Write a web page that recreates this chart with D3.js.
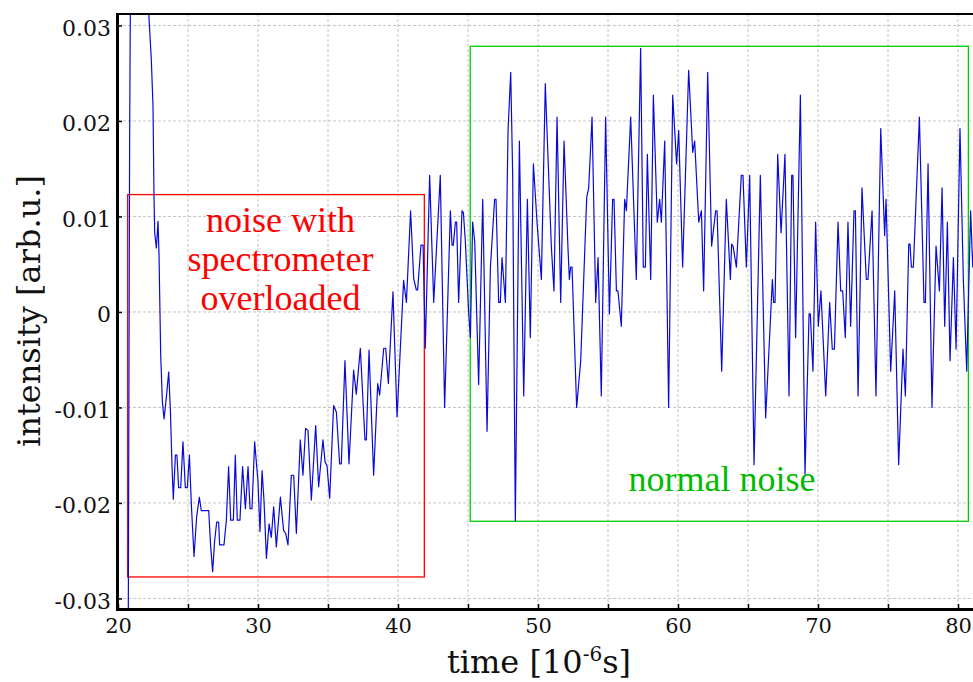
<!DOCTYPE html>
<html>
<head>
<meta charset="utf-8">
<script src="https://cdn.jsdelivr.net/npm/d3@7"></script>
<style>
  html, body { margin: 0; padding: 0; background: #fff; }
</style>
</head>
<body>
<div id="chart"></div>
<script>
var width = 973;
var height = 682;

// time axis in 10^-6 s, intensity in arb.u.
var timeValues = [
  20.72, 20.83, 21.00, 22.38, 22.50, 22.57, 22.62, 22.74, 22.86, 22.93,
  23.05, 23.17, 23.29, 23.45, 23.62, 23.74, 23.86, 23.95, 24.10, 24.21,
  24.33, 24.48, 24.64, 24.81, 24.95, 25.10, 25.24, 25.43, 25.62, 25.81,
  25.95, 26.48, 26.62, 26.76, 26.90, 27.05, 27.19, 27.26, 27.57, 27.74,
  27.90, 28.05, 28.24, 28.38, 28.52, 28.71, 28.90, 29.10, 29.29, 29.43,
  29.57, 29.76, 30.00, 30.14, 30.29, 30.43, 30.60, 30.79, 30.95, 31.12,
  31.31, 31.60, 31.83, 31.98, 32.14, 32.38, 32.55, 32.74, 33.02, 33.21,
  33.40, 33.57, 33.81, 34.12, 34.33, 34.64, 34.79, 34.93, 35.12, 35.40,
  35.60, 35.83, 35.95, 36.21, 36.50, 36.83, 37.02, 37.31, 37.64, 37.74,
  37.93, 38.26, 38.55, 38.69, 38.98, 39.12, 39.31, 39.64, 39.93, 40.40,
  40.60, 40.90, 41.12, 41.31, 41.40, 41.64, 41.79, 41.95, 42.26, 42.55,
  43.02, 43.33, 43.74, 43.86, 43.95, 44.10, 44.19, 44.33, 44.57, 44.67,
  44.81, 45.05, 45.17, 45.33, 45.48, 45.76, 46.05, 46.36, 46.60, 46.90,
  47.00, 47.19, 47.31, 47.43, 47.67, 47.86, 48.05, 48.19, 48.38, 48.67,
  48.98, 49.24, 49.45, 49.67, 49.93, 50.24, 50.52, 50.95, 51.14, 51.36,
  51.62, 51.86, 52.14, 52.24, 52.33, 52.43, 52.76, 53.05, 53.48, 53.62,
  53.86, 54.12, 54.29, 54.52, 54.83, 55.10, 55.33, 55.43, 55.60, 55.71,
  55.95, 56.19, 56.31, 56.62, 57.02, 57.33, 57.52, 57.67, 57.81, 58.05,
  58.24, 58.52, 58.69, 58.81, 59.05, 59.33, 59.62, 59.90, 60.05, 60.33,
  60.76, 61.05, 61.19, 61.48, 61.67, 61.83, 62.12, 62.40, 62.69, 62.79,
  63.12, 63.45, 63.74, 63.83, 63.93, 64.17, 64.52, 64.64, 64.88, 65.12,
  65.43, 65.88, 66.26, 66.74, 66.83, 66.93, 67.12, 67.36, 67.64, 67.93,
  68.12, 68.21, 68.40, 68.74, 69.07, 69.36, 69.45, 69.64, 69.83, 70.02,
  70.21, 70.55, 70.83, 71.02, 71.17, 71.43, 71.62, 71.76, 71.95, 72.14,
  72.33, 72.57, 72.67, 72.86, 73.14, 73.45, 73.57, 73.86, 74.14, 74.48,
  74.76, 74.86, 75.19, 75.48, 75.76, 76.07, 76.24, 76.48, 76.57, 76.67,
  76.81, 77.24, 77.57, 77.67, 77.86, 78.14, 78.43, 78.67, 78.86, 79.05,
  79.24, 79.43, 79.67, 79.86, 80.14, 80.38, 80.62, 80.90, 81.05, 81.20
];

var intensityValues = [
  -0.0400, 0.0180, 0.0630, 0.0264, 0.0216, 0.0123, 0.0083, 0.0067, 0.0095, 0.0059,
  -0.0045, -0.0094, -0.0112, -0.0090, -0.0063, -0.0102, -0.0162, -0.0196, -0.0150, -0.0150,
  -0.0184, -0.0184, -0.0136, -0.0184, -0.0184, -0.0150, -0.0202, -0.0256, -0.0214, -0.0194,
  -0.0208, -0.0208, -0.0246, -0.0272, -0.0240, -0.0220, -0.0220, -0.0244, -0.0244, -0.0218,
  -0.0162, -0.0218, -0.0218, -0.0150, -0.0218, -0.0218, -0.0162, -0.0206, -0.0162, -0.0206,
  -0.0206, -0.0136, -0.0178, -0.0230, -0.0166, -0.0198, -0.0258, -0.0222, -0.0236, -0.0204,
  -0.0246, -0.0194, -0.0229, -0.0232, -0.0244, -0.0171, -0.0171, -0.0232, -0.0134, -0.0171,
  -0.0122, -0.0124, -0.0197, -0.0119, -0.0183, -0.0134, -0.0157, -0.0161, -0.0195, -0.0098,
  -0.0105, -0.0159, -0.0159, -0.0051, -0.0159, -0.0061, -0.0086, -0.0038, -0.0134, -0.0134,
  -0.0040, -0.0171, -0.0075, -0.0087, -0.0038, -0.0038, -0.0075, 0.0021, -0.0110, 0.0033,
  0.0010, 0.0106, 0.0035, 0.0023, 0.0023, 0.0070, 0.0070, -0.0038, 0.0143, 0.0010,
  0.0143, -0.0100, 0.0106, 0.0070, 0.0070, 0.0094, 0.0094, 0.0010, 0.0106, 0.0104,
  0.0074, -0.0002, -0.0027, 0.0094, 0.0074, -0.0076, 0.0118, -0.0125, 0.0047, 0.0118,
  0.0118, 0.0010, 0.0010, 0.0057, 0.0010, 0.0190, 0.0251, 0.0144, -0.0219, 0.0179,
  -0.0088, 0.0118, -0.0027, 0.0155, 0.0094, 0.0034, 0.0239, 0.0069, 0.0022, 0.0204,
  0.0010, 0.0179, 0.0067, 0.0034, 0.0047, 0.0047, -0.0100, -0.0051, 0.0120, 0.0130,
  0.0204, 0.0010, 0.0057, -0.0088, 0.0204, -0.0002, 0.0118, 0.0118, 0.0022, 0.0022,
  -0.0015, 0.0118, 0.0106, 0.0204, 0.0034, 0.0276, 0.0047, 0.0047, 0.0165, 0.0034,
  0.0227, 0.0094, 0.0118, 0.0094, 0.0179, -0.0100, 0.0227, 0.0155, 0.0190, 0.0047,
  0.0253, 0.0167, 0.0179, 0.0094, 0.0106, 0.0022, 0.0251, 0.0069, 0.0106, 0.0106,
  -0.0062, 0.0118, 0.0034, 0.0071, 0.0069, 0.0047, 0.0143, 0.0143, 0.0047, 0.0143,
  -0.0160, 0.0143, -0.0111, 0.0034, 0.0010, 0.0010, 0.0165, 0.0083, 0.0165, -0.0088,
  0.0143, 0.0143, -0.0027, 0.0227, -0.0170, -0.0002, -0.0002, -0.0062, 0.0094, -0.0015,
  0.0022, -0.0088, 0.0010, -0.0039, -0.0039, 0.0094, 0.0022, 0.0022, -0.0027, 0.0094,
  -0.0015, 0.0106, 0.0106, -0.0088, 0.0130, 0.0034, 0.0034, 0.0106, -0.0088, 0.0192,
  0.0080, 0.0118, -0.0062, 0.0022, -0.0160, -0.0039, -0.0088, 0.0071, 0.0071, 0.0047,
  0.0047, 0.0204, 0.0010, 0.0010, 0.0155, -0.0100, 0.0069, 0.0022, 0.0130, -0.0015,
  0.0094, -0.0051, 0.0057, -0.0039, 0.0192, 0.0034, -0.0062, 0.0106, 0.0047, 0.0090
];

var xTicks = [20, 25, 30, 35, 40, 45, 50, 55, 60, 65, 70, 75, 80];
var xTickLabels = [20, 30, 40, 50, 60, 70, 80];
var yTicks = [-0.03, -0.02, -0.01, 0, 0.01, 0.02, 0.03];

// annotation boxes: [t0, t1, v0, v1]
var overloadBox = [20.69, 41.88, -0.02775, 0.01229];
var normalBox = [45.16, 80.74, -0.02192, 0.02782];
var overloadText = ["noise with", "spectrometer", "overloaded"];
var normalText = "normal noise";

var dataset = timeValues.map(function (t, i) {
  return { t: t, v: intensityValues[i] };
});

var plotLeft = 118;
var plotTop = 14;
var plotBottom = 608;

var svg = d3
  .select("#chart")
  .append("svg")
  .attr("width", width)
  .attr("height", height)
  .style("display", "block");

var xScale = d3.scaleLinear().domain([20, 81.07]).range([plotLeft, width]);
var yScale = d3.scaleLinear().domain([-0.0310, 0.0312]).range([plotBottom, plotTop]);

svg
  .append("defs")
  .append("clipPath")
  .attr("id", "plotClip")
  .append("rect")
  .attr("x", plotLeft)
  .attr("y", plotTop)
  .attr("width", width - plotLeft)
  .attr("height", plotBottom - plotTop);

// grid
svg
  .append("g")
  .selectAll("line")
  .data(xTicks)
  .enter()
  .append("line")
  .attr("x1", function (d) { return xScale(d); })
  .attr("x2", function (d) { return xScale(d); })
  .attr("y1", plotTop)
  .attr("y2", plotBottom)
  .attr("stroke", "#c4c4c4")
  .attr("stroke-width", 1)
  .attr("stroke-dasharray", "3,2");

svg
  .append("g")
  .selectAll("line")
  .data(yTicks)
  .enter()
  .append("line")
  .attr("x1", plotLeft)
  .attr("x2", width)
  .attr("y1", function (d) { return yScale(d); })
  .attr("y2", function (d) { return yScale(d); })
  .attr("stroke", "#c4c4c4")
  .attr("stroke-width", 1)
  .attr("stroke-dasharray", "3,2");

// annotation boxes
function drawBox(box, color) {
  svg
    .append("rect")
    .attr("x", xScale(box[0]))
    .attr("y", yScale(box[3]))
    .attr("width", xScale(box[1]) - xScale(box[0]))
    .attr("height", yScale(box[2]) - yScale(box[3]))
    .attr("fill", "none")
    .attr("stroke", color)
    .attr("stroke-width", 1.3);
}
drawBox(overloadBox, "#ff0000");
drawBox(normalBox, "#00cc00");

// signal
var line = d3
  .line()
  .x(function (d) { return xScale(d.t); })
  .y(function (d) { return yScale(d.v); });

svg
  .append("path")
  .datum(dataset)
  .attr("clip-path", "url(#plotClip)")
  .attr("d", line)
  .attr("fill", "none")
  .attr("stroke", "#0a0ad8")
  .attr("stroke-width", 1.2)
  .attr("stroke-linejoin", "round");

// annotation texts
svg
  .append("g")
  .selectAll("text")
  .data(overloadText)
  .enter()
  .append("text")
  .attr("x", 280.5)
  .attr("y", function (d, i) { return 232 + i * 39; })
  .attr("text-anchor", "middle")
  .attr("font-family", "Liberation Serif, Times New Roman, serif")
  .attr("font-size", "36px")
  .attr("fill", "#ff0000")
  .text(function (d) { return d; });

svg
  .append("text")
  .attr("x", 722)
  .attr("y", 491)
  .attr("text-anchor", "middle")
  .attr("font-family", "Liberation Serif, Times New Roman, serif")
  .attr("font-size", "36px")
  .attr("fill", "#00bb00")
  .text(normalText);

// axes
var xAxis = d3
  .axisBottom(xScale)
  .tickValues(xTicks)
  .tickSize(-4)
  .tickPadding(10)
  .tickFormat(function (d) {
    return xTickLabels.indexOf(d) >= 0 ? d : "";
  });

var yAxis = d3
  .axisLeft(yScale)
  .tickValues(yTicks)
  .tickSize(-4)
  .tickPadding(7)
  .tickFormat(function (d) {
    return d === 0 ? "0" : d3.format(".2f")(d).replace("−", "-");
  });

var gx = svg
  .append("g")
  .attr("transform", "translate(0," + plotBottom + ")")
  .call(xAxis);

gx.select(".domain").remove();
gx.selectAll(".tick line").attr("stroke", "#000").attr("stroke-width", 1.5);
gx.selectAll(".tick text")
  .attr("font-family", "DejaVu Serif, serif")
  .attr("font-size", "21px")
  .attr("fill", "#111");

var gy = svg
  .append("g")
  .attr("transform", "translate(" + plotLeft + ",0)")
  .call(yAxis);

gy.select(".domain").remove();
gy.selectAll(".tick line").attr("stroke", "#000").attr("stroke-width", 1.5);
gy.selectAll(".tick text")
  .attr("font-family", "DejaVu Serif, serif")
  .attr("font-size", "22px")
  .attr("fill", "#111")
  .attr("dy", "0.45em");

// frame lines
svg
  .append("line")
  .attr("x1", plotLeft)
  .attr("x2", width)
  .attr("y1", plotTop)
  .attr("y2", plotTop)
  .attr("stroke", "#000")
  .attr("stroke-width", 2);

svg
  .append("line")
  .attr("x1", plotLeft - 0.5)
  .attr("x2", plotLeft - 0.5)
  .attr("y1", plotTop - 1)
  .attr("y2", plotBottom + 2.5)
  .attr("stroke", "#000")
  .attr("stroke-width", 3);

svg
  .append("line")
  .attr("x1", plotLeft - 2)
  .attr("x2", width)
  .attr("y1", plotBottom + 1.5)
  .attr("y2", plotBottom + 1.5)
  .attr("stroke", "#000")
  .attr("stroke-width", 3);

// axis titles
var xTitle = svg
  .append("text")
  .attr("x", 539)
  .attr("y", 673)
  .attr("text-anchor", "middle")
  .attr("font-family", "DejaVu Serif, serif")
  .attr("font-size", "32px")
  .attr("fill", "#111");
xTitle.append("tspan").text("time [10");
xTitle.append("tspan").attr("font-size", "20px").attr("dy", "-12").text("-6");
xTitle.append("tspan").attr("dy", "12").text("s]");

svg
  .append("text")
  .attr("transform", "translate(40," + (plotTop + plotBottom) / 2 + ") rotate(-90)")
  .attr("text-anchor", "middle")
  .attr("font-family", "DejaVu Serif, serif")
  .attr("font-size", "32px")
  .attr("fill", "#111")
  .text("intensity [arb.u.]");
</script>
</body>
</html>
